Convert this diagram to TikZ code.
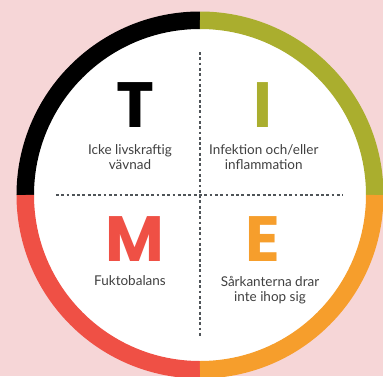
\documentclass[tikz,border=0pt]{standalone}
\usepackage{fontspec}
\setmainfont{Lato}
\newfontfamily\letterfont{Poppins}

\definecolor{bgpink}{HTML}{F6D6D7}
\definecolor{olive}{HTML}{AAAE2E}
\definecolor{tomato}{HTML}{EF5045}
\definecolor{amber}{HTML}{F69E2C}
\definecolor{textgray}{HTML}{404040}
\definecolor{dotgray}{HTML}{4F5458}

\begin{document}
\begin{tikzpicture}[x=1pt, y=1pt,
    letter/.style={font=\letterfont\bfseries\fontsize{64}{64}\selectfont, anchor=base, inner sep=0pt, text height=45pt, text depth=0pt},
    desc/.style={font=\fontsize{13.5}{15.5}\selectfont, text=textgray, align=center, inner sep=0pt},
    ring/.style={line width=17.5pt},
    divider/.style={dotgray, line width=2.8pt, dash pattern=on 2.8pt off 2.5pt}]
    \useasboundingbox (-200,-181) rectangle (183,195);
    \fill[bgpink] (-200,-181) rectangle (183,195);
    \fill[white] (0,0) circle (167);

    % ring quarters
    \draw[ring, black]  (90:174.75)  arc (90:180:174.75);
    \draw[ring, olive]  (0:174.75)   arc (0:90:174.75);
    \draw[ring, tomato] (180:174.75) arc (180:270:174.75);
    \draw[ring, amber]  (270:174.75) arc (270:360:174.75);

    % dotted cross
    \coordinate (top) at (0,143);
    \coordinate (bottom) at (0,-143);
    \coordinate (left) at (-144,0);
    \coordinate (right) at (143,0);
    \draw[divider] (top) -- (bottom);
    \draw[divider] (left) -- (right);

    \node[letter] (T) at (-65,67.7) {T};
    \node[letter, text=olive] (I) at (63.3,67.7) {I};
    \node[letter, text=tomato] (M) at (-65,-66.7) {M};
    \node[letter, text=amber] (E) at (63.3,-66.7) {E};

    \node[desc] (tissue) at (-70,38) {Icke livskraftig\\vävnad};
    \node[desc] (infection) at (63.8,38) {Infektion och/eller\\inflammation};
    \node[desc] (moisture) at (-70,-85.8) {Fuktobalans};
    \node[desc] (edge) at (70,-95) {Sårkanterna drar\\inte ihop sig};
\end{tikzpicture}
\end{document}
